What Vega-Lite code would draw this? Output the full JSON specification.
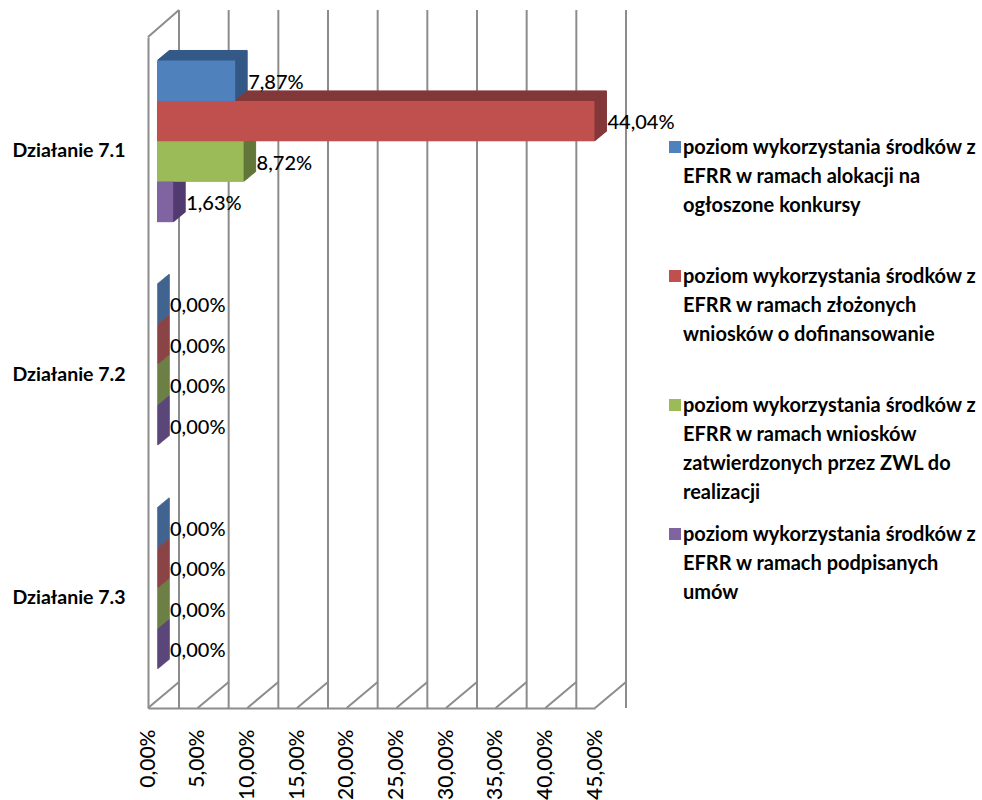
{"$schema":"https://vega.github.io/schema/vega-lite/v6.json","width":447,"height":671,"autosize":{"type":"none"},"padding":{"left":148,"top":37,"right":387,"bottom":92},"background":"white","config":{"view":{"stroke":null},"locale":{"number":{"decimal":",","thousands":" ","grouping":[3],"currency":["","zł"]}}},"datasets":{"grid":[{"tick":0},{"tick":0.05},{"tick":0.1},{"tick":0.15},{"tick":0.2},{"tick":0.25},{"tick":0.3},{"tick":0.35},{"tick":0.4},{"tick":0.45}],"corner":[{"tick":0}],"bars":[
{"dzialanie":"Działanie 7.1","seria":"poziom wykorzystania środków z\nEFRR w ramach alokacji na\nogłoszone konkursy","wartosc":0.0787},
{"dzialanie":"Działanie 7.1","seria":"poziom wykorzystania środków z\nEFRR w ramach złożonych\nwniosków o dofinansowanie","wartosc":0.4404},
{"dzialanie":"Działanie 7.1","seria":"poziom wykorzystania środków z\nEFRR w ramach wniosków\nzatwierdzonych przez ZWL do\nrealizacji","wartosc":0.0872},
{"dzialanie":"Działanie 7.1","seria":"poziom wykorzystania środków z\nEFRR w ramach podpisanych\numów","wartosc":0.0163},
{"dzialanie":"Działanie 7.2","seria":"poziom wykorzystania środków z\nEFRR w ramach alokacji na\nogłoszone konkursy","wartosc":0},
{"dzialanie":"Działanie 7.2","seria":"poziom wykorzystania środków z\nEFRR w ramach złożonych\nwniosków o dofinansowanie","wartosc":0},
{"dzialanie":"Działanie 7.2","seria":"poziom wykorzystania środków z\nEFRR w ramach wniosków\nzatwierdzonych przez ZWL do\nrealizacji","wartosc":0},
{"dzialanie":"Działanie 7.2","seria":"poziom wykorzystania środków z\nEFRR w ramach podpisanych\numów","wartosc":0},
{"dzialanie":"Działanie 7.3","seria":"poziom wykorzystania środków z\nEFRR w ramach alokacji na\nogłoszone konkursy","wartosc":0},
{"dzialanie":"Działanie 7.3","seria":"poziom wykorzystania środków z\nEFRR w ramach złożonych\nwniosków o dofinansowanie","wartosc":0},
{"dzialanie":"Działanie 7.3","seria":"poziom wykorzystania środków z\nEFRR w ramach wniosków\nzatwierdzonych przez ZWL do\nrealizacji","wartosc":0},
{"dzialanie":"Działanie 7.3","seria":"poziom wykorzystania środków z\nEFRR w ramach podpisanych\numów","wartosc":0}
]},
"encoding":{
"x":{"field":"wartosc","type":"quantitative","scale":{"domain":[0,0.45],"nice":false},"axis":{"values":[0,0.05,0.1,0.15,0.2,0.25,0.3,0.35,0.4,0.45],"format":".2%","title":null,"grid":false,"ticks":false,"domainColor":"#8c8c8c","domainWidth":2,"labelAngle":-90,"labelFont":"Lato","labelFontWeight":500,"labelFontSize":21,"labelColor":"#000000","labelPadding":21,"labelOverlap":false,"labelFlush":false}},
"yOffset":{"field":"seria","type":"nominal","sort":null,"scale":{"paddingInner":0,"paddingOuter":0}},
"color":{"field":"seria","type":"nominal","sort":null,"scale":{"range":["#355a87","#83383a","#62783a","#513a70"]},"legend":null},
"stroke":{"field":"seria","type":"nominal","sort":null,"scale":{"range":["#355a87","#83383a","#62783a","#513a70"]},"legend":null}
},
"layer":[
{"data":{"name":"grid"},"mark":{"type":"rule","color":"#8c8c8c","strokeWidth":2,"xOffset":31,"yOffset":-27,"y2Offset":-27},"encoding":{"x":{"field":"tick","type":"quantitative"},"yOffset":null,"color":null,"stroke":null}},
{"data":{"name":"grid"},"mark":{"type":"rule","color":"#8c8c8c","strokeWidth":2,"x2Offset":31},"encoding":{"x":{"field":"tick","type":"quantitative"},"x2":{"field":"tick"},"y":{"datum":0,"type":"quantitative","scale":{"domain":[0,671]},"axis":null},"y2":{"datum":26},"yOffset":null,"color":null,"stroke":null}},
{"data":{"name":"corner"},"mark":{"type":"rule","color":"#8c8c8c","strokeWidth":2,"x2Offset":31},"encoding":{"x":{"field":"tick","type":"quantitative"},"x2":{"field":"tick"},"y":{"datum":671,"type":"quantitative","scale":{"domain":[0,671]},"axis":null},"y2":{"datum":698},"yOffset":null,"color":null,"stroke":null}},
{"data":{"name":"bars"},"mark":{"type":"bar","opacity":0},"encoding":{"y":{"field":"dzialanie","type":"nominal","sort":null,"scale":{"paddingInner":0.277,"paddingOuter":0.1385},"axis":{"title":null,"ticks":false,"domainColor":"#8c8c8c","domainWidth":2,"labelFont":"Lato","labelFontWeight":"bold","labelFontSize":19.5,"labelColor":"#000000","labelPadding":23,"labelOffset":2}}}},
{"data":{"name":"bars"},"mark":{"type":"bar","xOffset":21,"strokeWidth":1},"encoding":{"y":{"field":"dzialanie","type":"nominal","sort":null,"scale":{"paddingInner":0.277,"paddingOuter":0.1385,"range":[-17.5,653.5]},"axis":null}}},
{"data":{"name":"bars"},"mark":{"type":"bar","xOffset":20,"strokeWidth":1},"encoding":{"y":{"field":"dzialanie","type":"nominal","sort":null,"scale":{"paddingInner":0.277,"paddingOuter":0.1385,"range":[-16.6,654.4]},"axis":null}}},
{"data":{"name":"bars"},"mark":{"type":"bar","xOffset":19,"strokeWidth":1},"encoding":{"y":{"field":"dzialanie","type":"nominal","sort":null,"scale":{"paddingInner":0.277,"paddingOuter":0.1385,"range":[-15.8,655.2]},"axis":null}}},
{"data":{"name":"bars"},"mark":{"type":"bar","xOffset":18,"strokeWidth":1},"encoding":{"y":{"field":"dzialanie","type":"nominal","sort":null,"scale":{"paddingInner":0.277,"paddingOuter":0.1385,"range":[-15,656]},"axis":null}}},
{"data":{"name":"bars"},"mark":{"type":"bar","xOffset":17,"strokeWidth":1},"encoding":{"y":{"field":"dzialanie","type":"nominal","sort":null,"scale":{"paddingInner":0.277,"paddingOuter":0.1385,"range":[-14.2,656.8]},"axis":null}}},
{"data":{"name":"bars"},"mark":{"type":"bar","xOffset":16,"strokeWidth":1},"encoding":{"y":{"field":"dzialanie","type":"nominal","sort":null,"scale":{"paddingInner":0.277,"paddingOuter":0.1385,"range":[-13.3,657.7]},"axis":null}}},
{"data":{"name":"bars"},"mark":{"type":"bar","xOffset":15,"strokeWidth":1},"encoding":{"y":{"field":"dzialanie","type":"nominal","sort":null,"scale":{"paddingInner":0.277,"paddingOuter":0.1385,"range":[-12.5,658.5]},"axis":null}}},
{"data":{"name":"bars"},"mark":{"type":"bar","xOffset":14,"strokeWidth":1},"encoding":{"y":{"field":"dzialanie","type":"nominal","sort":null,"scale":{"paddingInner":0.277,"paddingOuter":0.1385,"range":[-11.7,659.3]},"axis":null}}},
{"data":{"name":"bars"},"mark":{"type":"bar","xOffset":13,"strokeWidth":1},"encoding":{"y":{"field":"dzialanie","type":"nominal","sort":null,"scale":{"paddingInner":0.277,"paddingOuter":0.1385,"range":[-10.8,660.2]},"axis":null}}},
{"data":{"name":"bars"},"mark":{"type":"bar","xOffset":12,"strokeWidth":1},"encoding":{"y":{"field":"dzialanie","type":"nominal","sort":null,"scale":{"paddingInner":0.277,"paddingOuter":0.1385,"range":[-10,661]},"axis":null}}},
{"data":{"name":"bars"},"mark":{"type":"bar","xOffset":11,"strokeWidth":1},"encoding":{"y":{"field":"dzialanie","type":"nominal","sort":null,"scale":{"paddingInner":0.277,"paddingOuter":0.1385,"range":[-9.2,661.8]},"axis":null}}},
{"data":{"name":"bars"},"mark":{"type":"bar","xOffset":10,"strokeWidth":1},"encoding":{"y":{"field":"dzialanie","type":"nominal","sort":null,"scale":{"paddingInner":0.277,"paddingOuter":0.1385,"range":[-8.3,662.7]},"axis":null}}},
{"data":{"name":"bars"},"mark":{"type":"bar","xOffset":9},"encoding":{"y":{"field":"dzialanie","type":"nominal","sort":null,"scale":{"paddingInner":0.277,"paddingOuter":0.1385,"range":[-7.5,663.5]},"axis":null},"stroke":null,"color":{"field":"seria","type":"nominal","sort":null,"scale":{"range":["#4f81bd","#c0504d","#9bbb59","#8064a2"]},"legend":{"title":null,"orient":"none","legendX":517,"legendY":100,"symbolType":"square","symbolSize":144,"symbolOpacity":1,"labelFont":"Lato","labelFontWeight":"bold","labelFontSize":20,"labelColor":"#000000","labelLimit":400,"labelBaseline":"top","labelOffset":-2,"labelExpr":"split(datum.label,'\\n')","gridAlign":"all","rowPadding":21,"encoding":{"labels":{"dy":{"value":-9},"lineHeight":{"value":29}}}}}}},
{"data":{"name":"bars"},"mark":{"type":"text","align":"left","baseline":"middle","xOffset":22,"font":"Lato","fontWeight":500,"fontSize":20,"color":"#000000"},"encoding":{"y":{"field":"dzialanie","type":"nominal","sort":null,"scale":{"type":"band","paddingInner":0.277,"paddingOuter":0.1385,"range":[-5.5,665.5]},"axis":null},"yOffset":{"field":"seria","type":"nominal","sort":null,"scale":{"type":"band","paddingInner":0,"paddingOuter":0}},"text":{"field":"wartosc","type":"quantitative","format":".2%"},"color":null,"stroke":null}}
],
"resolve":{"scale":{"color":"independent","stroke":"independent","y":"independent","yOffset":"independent"},"axis":{"y":"independent"}}
}
